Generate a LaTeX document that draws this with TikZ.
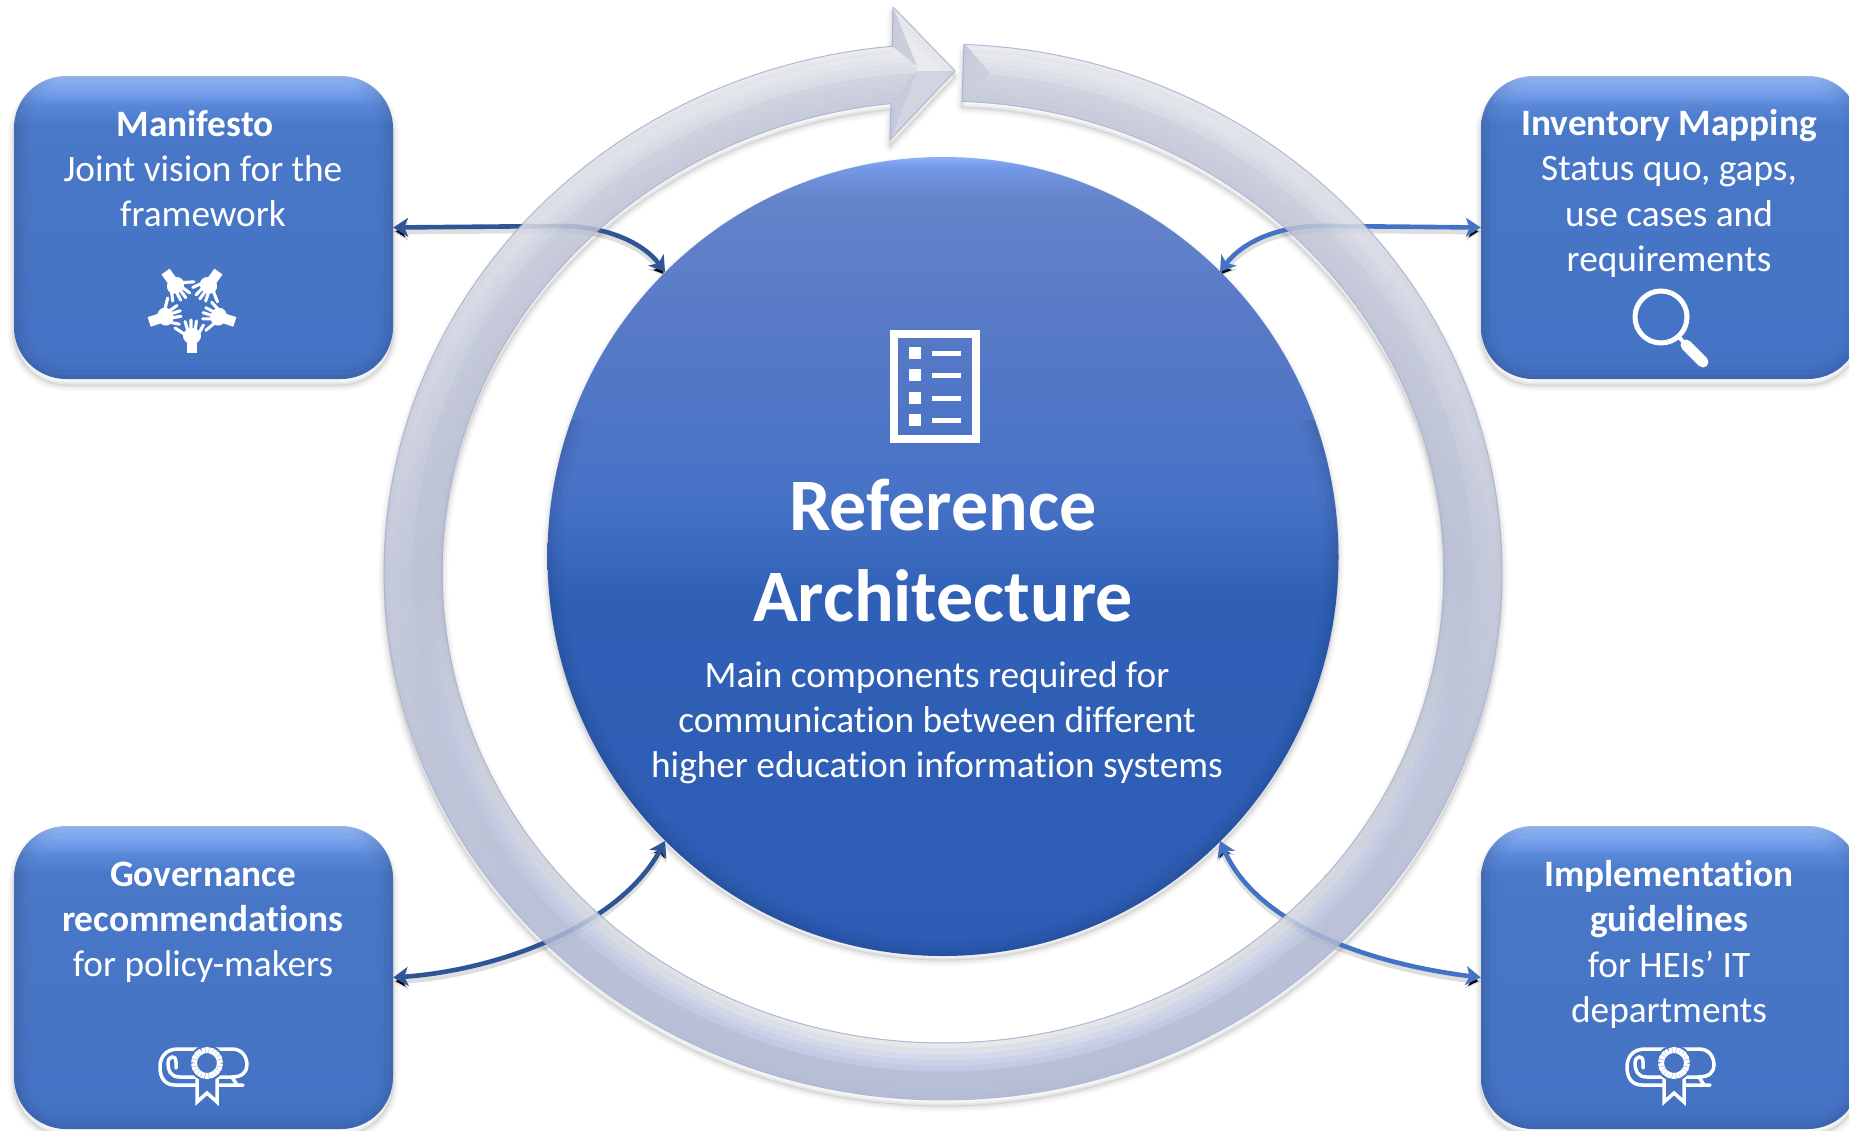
\documentclass[tikz,border=0pt]{standalone}
\usepackage{fontspec}
\setmainfont[Ligatures=NoCommon]{Carlito}
\usetikzlibrary{arrows.meta,shapes.geometric}
\definecolor{boxblue}{HTML}{4673C2}
\definecolor{cA}{HTML}{2D5CB4}\definecolor{cB}{HTML}{2F60B6}\definecolor{cC}{HTML}{4672C6}
\definecolor{cD}{HTML}{5578C6}\definecolor{cE}{HTML}{6484CB}\definecolor{cF}{HTML}{7398E6}\definecolor{cG}{HTML}{8AB0F8}
\definecolor{bA}{HTML}{4472C4}\definecolor{bB}{HTML}{4A78C8}\definecolor{bC}{HTML}{5A88D8}\definecolor{bD}{HTML}{7AA4F0}\definecolor{bE}{HTML}{93BBFF}\definecolor{bF}{HTML}{A6C8FF}
\definecolor{ringlight}{HTML}{E6E8EC}\definecolor{ringface}{HTML}{C2C6D7}\definecolor{ringlow}{HTML}{C9CDDC}\definecolor{ringlowb}{HTML}{BEC2D5}\definecolor{ringedge}{HTML}{A4AED0}
\pgfdeclareverticalshading{coreshade}{100bp}{color(0bp)=(cA);color(25bp)=(cA);color(47.3bp)=(cB);color(53.5bp)=(cC);color(62.9bp)=(cD);color(72.5bp)=(cE);color(74.3bp)=(cF);color(75bp)=(cG);color(100bp)=(cG)}
\pgfdeclareverticalshading{boxshade}{100bp}{color(0bp)=(bA);color(25bp)=(bA);color(67bp)=(bB);color(70.2bp)=(bC);color(72.7bp)=(bD);color(74.3bp)=(bE);color(75bp)=(bF);color(100bp)=(bF)}
\pgfdeclarelayer{under}\pgfdeclarelayer{ringlayer}
\pgfsetlayers{under,ringlayer,main}
\def\ringpath{plot[domain=-87.85:264.8,samples=220,variable=\t] ({943+559*cos(\t)},{572+528*sin(\t)}) -- (893,7) -- (955,71) -- (890,140) -- (891,103.5) -- plot[domain=264.04:-87.83,samples=220,variable=\t] ({943+501*cos(\t)},{572+471*sin(\t)}) -- cycle}
\definecolor{linkdark}{HTML}{2F5597}
\definecolor{linkbright}{HTML}{4472C4}
\tikzset{
  infobox/.style={rectangle,rounded corners=52pt,minimum width=379pt,minimum height=303pt,inner sep=0pt,shading=boxshade},
  boxtext/.style={text=white,align=center,font=\fontsize{37.3}{45.2}\selectfont,inner sep=0pt},
  link/.style={line width=4.6pt,{Stealth[length=15pt,width=19pt,inset=4pt]}-{Stealth[length=15pt,width=19pt,inset=4pt]},
     preaction={draw=black,draw opacity=.13,line width=6pt,transform canvas={yshift=-4pt}}},
  darklink/.style={link,draw=linkdark},
  brightlink/.style={link,draw=linkbright},
  icon/.style={draw=white,line width=3.5pt,line cap=round,line join=round},
  diploma/.pic={
    \draw[icon] (232,1049)--(178,1049) .. controls (165,1049) and (160,1058) .. (160,1067) .. controls (160,1078) and (165,1085) .. (175,1085) -- (243,1085);
    \draw[icon] (232,1049) .. controls (243,1049) and (247,1058) .. (247,1065) .. controls (247,1072) and (242,1077) .. (232,1077) -- (180,1077) .. controls (170,1077) and (168,1070) .. (168,1063) .. controls (168,1056) and (176,1054) .. (176,1062) -- (176,1068);
    \draw[icon] (232,1077) -- (237,1085);
    \draw[icon,fill=boxblue,line cap=butt,line join=miter] (197,1077) -- (197,1102) -- (207,1093) -- (217,1102) -- (217,1077);
    \fill[boxblue] (207,1063) circle[radius=18pt];
    \draw[draw=white,line width=6pt,dash pattern=on 3.2pt off .5pt] (207,1063) circle[radius=13pt];
  },
  hand/.pic={
    \fill[white] (-5,45) -- (5,45) -- (5,33) -- (-5,33) -- cycle;
    \fill[white] (0,28) ellipse[x radius=9pt,y radius=8pt];
    \draw[white,line width=3.1pt,line cap=round] (-6,27) -- (-17,20) (-4,23) -- (-7,13.5) (-1,23) -- (-1,12) (3,23) -- (4.5,13) (7,25) -- (11.5,17);
  }
}
\newcommand{\softedge}[1]{\foreach \w/\o in {30/.025,18/.03,8/.04}{\draw[black,opacity=\o,line width=\w pt] #1;}}
\newcommand{\softshadow}[1]{\foreach \w/\o in {12/.025,8/.035,4/.05,1/.07}{\draw[black,opacity=\o,line width=\w pt,line join=round] #1;}}
\begin{document}
\begin{tikzpicture}[x=1pt,y=-1pt]
\useasboundingbox (0,0) rectangle (1849,1130);
\clip (0,0) rectangle (1849,1130);
% nodes
\node[infobox] (manifesto) at (203.5,227.5) {};
\node[infobox] (inventory) at (1670.5,227.5) {};
\node[infobox] (governance) at (203.5,977.5) {};
\node[infobox] (implementation) at (1670.5,977.5) {};
\node[ellipse,minimum width=791pt,minimum height=799pt,inner sep=0pt,shading=coreshade] (core) at (943,556.5) {};
\coordinate (coreNW) at (665,272);
\coordinate (coreNE) at (1220,272);
\coordinate (coreSW) at (665,841);
\coordinate (coreSE) at (1220,841);
% box edges
\begin{scope}
\clip (14,76) [rounded corners=52pt] rectangle (393,379) [sharp corners] (1481,76) [rounded corners=52pt] rectangle (1860,379) [sharp corners] (14,826) [rounded corners=52pt] rectangle (393,1129) [sharp corners] (1481,826) [rounded corners=52pt] rectangle (1860,1129);
\softedge{(14,76) [rounded corners=52pt] rectangle (393,379)}
\softedge{(1481,76) [rounded corners=52pt] rectangle (1860,379)}
\softedge{(14,826) [rounded corners=52pt] rectangle (393,1129)}
\softedge{(1481,826) [rounded corners=52pt] rectangle (1860,1129)}
\end{scope}
\begin{scope}\clip (400,420) rectangle (1500,1130);
\clip (943,556.5) ellipse[x radius=395.5pt,y radius=399.5pt];
\softedge{(943,556.5) ellipse[x radius=395.5pt,y radius=399.5pt]}
\end{scope}
% under layer: shadows and connectors
\begin{pgfonlayer}{under}
\softshadow{[shift={(0,6)}] (14,76) [rounded corners=52pt] rectangle (393,379)}
\softshadow{[shift={(0,6)}] (1481,76) [rounded corners=52pt] rectangle (1860,379)}
\softshadow{[shift={(0,6)}] (14,826) [rounded corners=52pt] rectangle (393,1129)}
\softshadow{[shift={(0,6)}] (1481,826) [rounded corners=52pt] rectangle (1860,1129)}
\softshadow{(943,561) ellipse[x radius=395pt,y radius=399pt]}
\softshadow{[shift={(0,6)}] \ringpath}
\draw[darklink] (manifesto.east) -- (560,226) .. controls (610,226) and (645,245) .. (coreNW);
\draw[brightlink] (inventory.west) -- (1330,226) .. controls (1275,224) and (1240,245) .. (coreNE);
\draw[darklink] (governance.east) .. controls (500,970) and (620,925) .. (coreSW);
\draw[brightlink] (implementation.west) .. controls (1380,965) and (1260,930) .. (coreSE);
\end{pgfonlayer}
% ring
\begin{pgfonlayer}{ringlayer}
\begin{scope}[transparency group,opacity=.86]
\begin{scope}
\clip \ringpath;
\foreach \k/\ct/\cm/\cb in {0/E9EBEF/BCC1D5/A8B1CE,1/E6E8ED/BCC1D5/AAB3D0,2/DFE2E9/BAC0D4/ABB4D0,3/D9DCE5/B9BFD3/ABB4D0,4/D3D7E1/B8BED2/ACB5D1,5/C9CDDB/B2B9CF/B8C2DF,6/C6CADA/B1B8CF/C2CBE4,7/C4C7D8/B1B8CF/CDD4E8,8/C2C5D6/B1B8CE/DBDFE8,9/BFC3D4/B1B8CE/E6E8E9}{
  \definecolor{rt}{HTML}{\ct}\definecolor{rm}{HTML}{\cm}\definecolor{rb}{HTML}{\cb}
  \pgfmathsetmacro{\rx}{559-5.8*\k}
  \pgfmathsetmacro{\ry}{528-5.7*\k}
  \shade[top color=rt,bottom color=rb,middle color=rm] (943,572) ellipse[x radius=\rx pt,y radius=\ry pt];
}
\fill[ringlight] (893,7) -- (955,71) -- (917,71) -- cycle;
\fill[ringface] (893,7) -- (917,66) -- (892,46) -- cycle;
\fill[ringlow] (955,71) -- (917,71) -- (890,140) -- cycle;
\fill[ringlowb] (917,71) -- (890,140) -- (891,102) -- cycle;
\fill[ringface] (964,43) -- (990,73) -- (962,101) -- cycle;
\end{scope}
\draw[draw=ringedge,line width=1pt,line join=round] \ringpath;
\end{scope}
\end{pgfonlayer}
% list icon
\draw[white,line width=8pt] (894,334) rectangle (976,439);
\foreach \yy in {353,375,398,420}{
  \fill[white] (909,\yy-5.75) rectangle (920.5,\yy+5.75);
  \fill[white] (932,\yy-2.5) rectangle (961,\yy+2.5);
}
% texts
\node[text=white,font=\fontsize{74}{91.5}\selectfont\bfseries,align=center,inner sep=0pt] (title) at (943,550.5) {Reference\\Architecture};
\node[boxtext] (coretext) at (937,722.5) {Main components required for\\communication between different\\higher education information systems};
\node[boxtext] (t1) at (203,168.5) {\hspace*{-16pt}\textbf{Manifesto}\\Joint vision for the\\framework};
\node[boxtext] (t2) at (1669,193.5) {\textbf{Inventory Mapping}\\Status quo, gaps,\\use cases and\\requirements};
\node[boxtext] (t3) at (203,922) {\textbf{Governance}\\\textbf{recommendations}\\for policy-makers};
\node[boxtext] (t4) at (1669,944.5) {\textbf{Implementation}\\\textbf{guidelines}\\for HEIs’ IT\\departments};
% icons
\foreach \a in {0,72,144,216,288}{
  \pic[rotate=\a] at (192,308) {hand};
}
\draw[white,line width=5pt] (1661,317) circle[radius=26pt];
\draw[white,line width=4pt] (1679,337) -- (1686,345);
\draw[white,line width=11pt,line cap=round] (1686,345) -- (1703,362);
\pic at (0,0) {diploma};
\pic at (1467,0) {diploma};
\end{tikzpicture}
\end{document}
